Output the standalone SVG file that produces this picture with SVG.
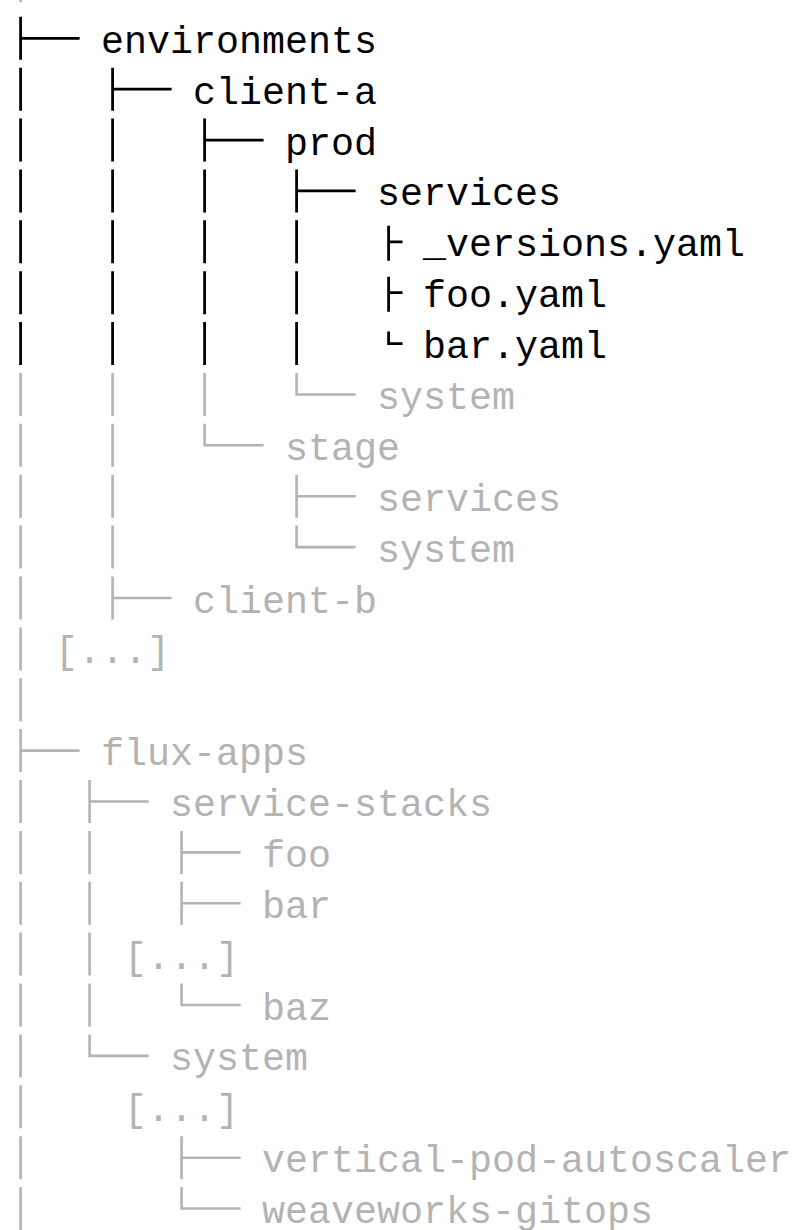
<svg xmlns="http://www.w3.org/2000/svg" width="797" height="1230" viewBox="0 0 797 1230">
  <style>
    text { font-family: "Liberation Mono", "DejaVu Sans Mono", monospace; font-size: 38.33px; }
    .t-on { fill: #000000; }
    .t-off { fill: #b3b3b3; }
    .c-on { fill: none; stroke: #000000; stroke-width: 2.8; stroke-linecap: butt; stroke-linejoin: miter; }
    .c-off { fill: none; stroke: #b3b3b3; stroke-width: 2.6; stroke-linecap: butt; stroke-linejoin: miter; }
  </style>
  <rect width="797" height="1230" fill="#ffffff"/>

  <!-- tree guides: columns at x = 20.6 + 23k, rows every 50.88px -->
  <g id="connectors">
    <!-- highlighted branch: environments / client-a / prod / services -->
    <path class="c-on" d="
      M20.6 16.8 V59.8 M19.2 38.3 H79.6
      M20.6 67.7 V110.7 M112.6 67.7 V110.7 M111.2 89.2 H171.6
      M20.6 118.6 V161.6 M112.6 118.6 V161.6 M204.6 118.6 V161.6 M203.2 140.1 H263.6
      M20.6 169.4 V212.4 M112.6 169.4 V212.4 M204.6 169.4 V212.4 M296.6 169.4 V212.4 M295.2 190.9 H355.6
      M20.6 220.3 V263.3 M112.6 220.3 V263.3 M204.6 220.3 V263.3 M296.6 220.3 V263.3
      M20.6 271.2 V314.2 M112.6 271.2 V314.2 M204.6 271.2 V314.2 M296.6 271.2 V314.2
      M20.6 322.1 V365.1 M112.6 322.1 V365.1 M204.6 322.1 V365.1 M296.6 322.1 V365.1"/>
    <!-- file markers under services -->
    <path class="c-on" d="
      M388.6 225.8 V260.8 M387.4 241.8 H402.5
      M388.6 276.7 V311.7 M387.4 292.7 H402.5
      M388.6 331.6 V343.6 H402.5"/>

    <!-- dimmed rows -->
    <path class="c-off" d="M20.6 0 V2"/>
    <path class="c-off" d="
      M20.6 373.0 V416.0 M112.6 373.0 V416.0 M204.6 373.0 V416.0 M296.6 373.0 V394.5 H355.6
      M20.6 423.8 V466.8 M112.6 423.8 V466.8 M204.6 423.8 V445.3 H263.6
      M20.6 474.7 V517.7 M112.6 474.7 V517.7 M296.6 474.7 V517.7 M295.3 496.2 H355.6
      M20.6 525.6 V568.6 M112.6 525.6 V568.6 M296.6 525.6 V547.1 H355.6
      M20.6 576.5 V619.5 M112.6 576.5 V619.5 M111.3 598.0 H171.6
      M20.6 627.4 V670.4
      M20.6 678.2 V721.2
      M20.6 729.1 V772.1 M19.3 750.6 H79.6
      M20.6 780.0 V823.0 M89.6 780.0 V823.0 M88.3 801.5 H148.6
      M20.6 830.9 V873.9 M89.6 830.9 V873.9 M181.6 830.9 V873.9 M180.3 852.4 H240.6
      M20.6 881.8 V924.8 M89.6 881.8 V924.8 M181.6 881.8 V924.8 M180.3 903.3 H240.6
      M20.6 932.6 V975.6 M89.6 932.6 V975.6
      M20.6 983.5 V1026.5 M89.6 983.5 V1026.5 M181.6 983.5 V1005.0 H240.6
      M20.6 1034.4 V1077.4 M89.6 1034.4 V1055.9 H148.6
      M20.6 1085.3 V1128.3
      M20.6 1136.2 V1179.2 M181.6 1136.2 V1179.2 M180.3 1157.7 H240.6
      M20.6 1187.0 V1230 M181.6 1187.0 V1208.5 H240.6"/>
  </g>

  <!-- environments branch -->
  <g id="node-environments"><text class="t-on" x="101.1" y="52.8">environments</text></g>
  <g id="node-client-a"><text class="t-on" x="193.1" y="103.7">client-a</text></g>
  <g id="node-client-a-prod"><text class="t-on" x="285.1" y="154.6">prod</text></g>
  <g id="node-prod-services"><text class="t-on" x="377.1" y="205.4">services</text></g>
  <g id="node-versions-yaml"><text class="t-on" x="423.1" y="256.3">_versions.yaml</text></g>
  <g id="node-foo-yaml"><text class="t-on" x="423.1" y="307.2">foo.yaml</text></g>
  <g id="node-bar-yaml"><text class="t-on" x="423.1" y="358.1">bar.yaml</text></g>
  <g id="node-prod-system"><text class="t-off" x="377.1" y="409.0">system</text></g>
  <g id="node-client-a-stage"><text class="t-off" x="285.1" y="459.8">stage</text></g>
  <g id="node-stage-services"><text class="t-off" x="377.1" y="510.7">services</text></g>
  <g id="node-stage-system"><text class="t-off" x="377.1" y="561.6">system</text></g>
  <g id="node-client-b"><text class="t-off" x="193.1" y="612.5">client-b</text></g>
  <g id="node-env-more"><text class="t-off" x="55.1" y="663.4">[...]</text></g>

  <!-- flux-apps branch -->
  <g id="node-flux-apps"><text class="t-off" x="101.1" y="765.1">flux-apps</text></g>
  <g id="node-service-stacks"><text class="t-off" x="170.1" y="816.0">service-stacks</text></g>
  <g id="node-stack-foo"><text class="t-off" x="262.1" y="866.9">foo</text></g>
  <g id="node-stack-bar"><text class="t-off" x="262.1" y="917.8">bar</text></g>
  <g id="node-stacks-more"><text class="t-off" x="124.1" y="968.6">[...]</text></g>
  <g id="node-stack-baz"><text class="t-off" x="262.1" y="1019.5">baz</text></g>
  <g id="node-flux-system"><text class="t-off" x="170.1" y="1070.4">system</text></g>
  <g id="node-system-more"><text class="t-off" x="124.1" y="1121.3">[...]</text></g>
  <g id="node-vpa"><text class="t-off" x="262.1" y="1172.2">vertical-pod-autoscaler</text></g>
  <g id="node-weaveworks-gitops"><text class="t-off" x="262.1" y="1223.0">weaveworks-gitops</text></g>
</svg>
